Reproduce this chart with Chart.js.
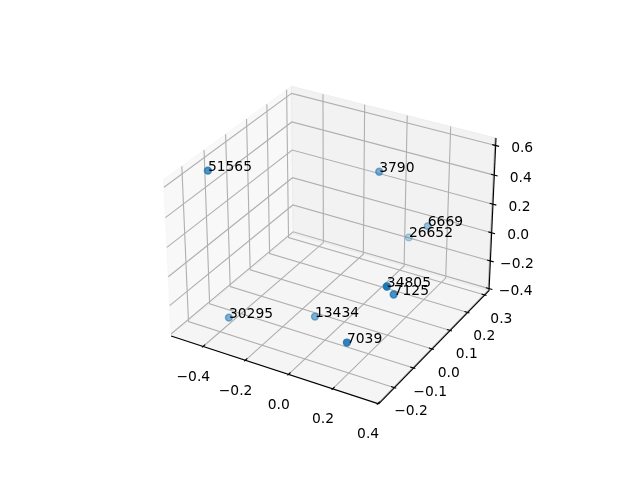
<!DOCTYPE html>
<html><head><meta charset="utf-8">
<style>html,body{margin:0;padding:0;background:#fff}canvas{display:block}</style>
<script src="https://cdn.jsdelivr.net/npm/chart.js@4"></script>
</head><body><canvas id="c" width="640" height="480"></canvas>
<script>
// data
const pointLabels=["51565","3790","6669","26652","34805","7125","30295","13434","7039"];
const xValues=[-0.491,-0.007,0.162,0.048,0.292,0.263,-0.388,-0.086,0.191];
const yValues=[-0.145,0.185,0.258,0.291,-0.116,-0.045,-0.169,-0.058,-0.200];
const zValues=[0.586,0.412,0.022,-0.145,0.112,-0.044,-0.349,-0.343,-0.208];
const xTicks=[-0.4,-0.2,0,0.2,0.4];
const yTicks=[-0.2,-0.1,0,0.1,0.2,0.3];
const zTicks=[-0.4,-0.2,0,0.2,0.4,0.6];
const xTickLabels=["\u22120.4","\u22120.2","0.0","0.2","0.4"];
const yTickLabels=["\u22120.2","\u22120.1","0.0","0.1","0.2","0.3"];
const zTickLabels=["\u22120.4","\u22120.2","0.0","0.2","0.4","0.6"];
const xLim=[-0.554,0.404], yLim=[-0.28,0.325], zLim=[-0.415,0.65];

// 3D view (elev 30, azim -60, distance 10)
const asp=1.8294640721620434*25/24/Math.sqrt(41);
const box=[4*asp,4*asp,3*asp];
const el=30*Math.PI/180, az=-60*Math.PI/180, dist=10;
const w=[Math.cos(el)*Math.cos(az),Math.cos(el)*Math.sin(az),Math.sin(el)];
const uN=Math.hypot(w[0],w[1]);
const u=[-w[1]/uN,w[0]/uN,0];
const v=[w[1]*u[2]-w[2]*u[1],w[2]*u[0]-w[0]*u[2],w[0]*u[1]-w[1]*u[0]];
const dot=(a,b)=>a[0]*b[0]+a[1]*b[1]+a[2]*b[2];
function view(x,y,z){
  const P=[((x-xLim[0])/(xLim[1]-xLim[0])-0.5)*box[0],
           ((y-yLim[0])/(yLim[1]-yLim[0])-0.5)*box[1],
           ((z-zLim[0])/(zLim[1]-zLim[0])-0.5)*box[2]];
  return [dot(P,u),dot(P,v),dot(P,w)];
}
const side=0.77*480, left=80+(496-side)/2, bottom=480-52.8;
function project(x,y,z){
  const [U,V,W]=view(x,y,z), d=dist-W;
  return {x:left+(U/d+0.095)/0.185*side, y:bottom-(V/d+0.095)/0.185*side};
}
const line=(pts)=>pts.map(p=>project(p[0],p[1],p[2]));
const [x0,x1]=xLim,[y0,y1]=yLim,[z0,z1]=zLim;

const GRID='rgb(176,176,176)', LW=1.11;
const ds=[];
function addPane(pts,col){
  const d=line(pts.concat([pts[0]]));
  ds.push({data:d,showLine:true,pointRadius:0,fill:'shape',backgroundColor:col,borderColor:col,borderWidth:1,tension:0});
}
function addLine(pts,col,lw){
  ds.push({data:line(pts),showLine:true,pointRadius:0,fill:false,borderColor:col,borderWidth:lw,tension:0});
}
addPane([[x0,y0,z0],[x0,y1,z0],[x0,y1,z1],[x0,y0,z1]],'rgba(242,242,242,0.5)');
addPane([[x0,y1,z0],[x1,y1,z0],[x1,y1,z1],[x0,y1,z1]],'rgba(230,230,230,0.5)');
addPane([[x0,y0,z0],[x1,y0,z0],[x1,y1,z0],[x0,y1,z0]],'rgba(236,236,236,0.5)');
xTicks.forEach(t=>addLine([[t,y0,z0],[t,y1,z0],[t,y1,z1]],GRID,LW));
yTicks.forEach(t=>addLine([[x1,t,z0],[x0,t,z0],[x0,t,z1]],GRID,LW));
zTicks.forEach(t=>addLine([[x0,y0,t],[x0,y1,t],[x1,y1,t]],GRID,LW));
// axis edges
addLine([[x0,y0,z0],[x1,y0,z0]],'#000',LW);
addLine([[x1,y0,z0],[x1,y1,z0]],'#000',LW);
addLine([[x1,y1,z0],[x1,y1,z1]],'#000',LW);
// tick marks
const dx=(x1-x0)*0.08, dy=(y1-y0)*0.08;
xTicks.forEach(t=>addLine([[t,y0-0.1*dy,z0],[t,y0+0.2*dy,z0]],'#000',LW));
yTicks.forEach(t=>addLine([[x1+0.1*dx,t,z0],[x1-0.2*dx,t,z0]],'#000',LW));
zTicks.forEach(t=>addLine([[x1+0.2*dx,y1,t],[x1-0.2*dx,y1,t]],'#000',LW));
// scatter with depth shading
const depth=pointLabels.map((_,i)=>view(xValues[i],yValues[i],zValues[i])[2]);
const dMin=Math.min(...depth), dMax=Math.max(...depth);
const idx=pointLabels.map((_,i)=>i).sort((a,b)=>depth[a]-depth[b]);
const cols=idx.map(i=>`rgba(31,119,180,${(1-0.7*Math.pow((dMax-depth[i])/(dMax-dMin),0.8)).toFixed(3)})`);
ds.push({data:idx.map(i=>project(xValues[i],yValues[i],zValues[i])),showLine:false,
  pointRadius:3.4,pointBorderWidth:1.5,pointBackgroundColor:cols,pointBorderColor:cols,pointStyle:'circle'});
ds.forEach((d,i)=>{d.order=ds.length-i;d.clip=false;});

const textPlugin={id:'text3d',afterDatasetsDraw(chart){
  const c=chart.ctx,sx=chart.scales.x,sy=chart.scales.y;
  c.save();c.fillStyle='#000';c.font="13.89px 'DejaVu Sans'";
  const at=(p,dxp,dyp,s)=>c.fillText(s,sx.getPixelForValue(p.x)+dxp,sy.getPixelForValue(p.y)+dyp);
  c.textAlign='left';c.textBaseline='alphabetic';
  pointLabels.forEach((s,i)=>at(project(xValues[i],yValues[i],zValues[i]),0,0,s));
  c.textAlign='center';c.textBaseline='middle';
  xTicks.forEach((t,i)=>at(project(t,y0,z0),-9.7,31,xTickLabels[i]));
  yTicks.forEach((t,i)=>at(project(x1,t,z0),16.5,24,yTickLabels[i]));
  zTicks.forEach((t,i)=>at(project(x1,y1,t),26.5,3,zTickLabels[i]));
  c.restore();
}};

new Chart(document.getElementById('c'),{
  type:'scatter',
  data:{datasets:ds},
  options:{responsive:false,animation:false,events:[],
    layout:{padding:0,autoPadding:false},
    plugins:{legend:{display:false},title:{display:false},tooltip:{enabled:false}},
    scales:{x:{type:'linear',min:0,max:640,display:false},
            y:{type:'linear',min:0,max:480,reverse:true,display:false}}},
  plugins:[textPlugin]
});
</script></body></html>
